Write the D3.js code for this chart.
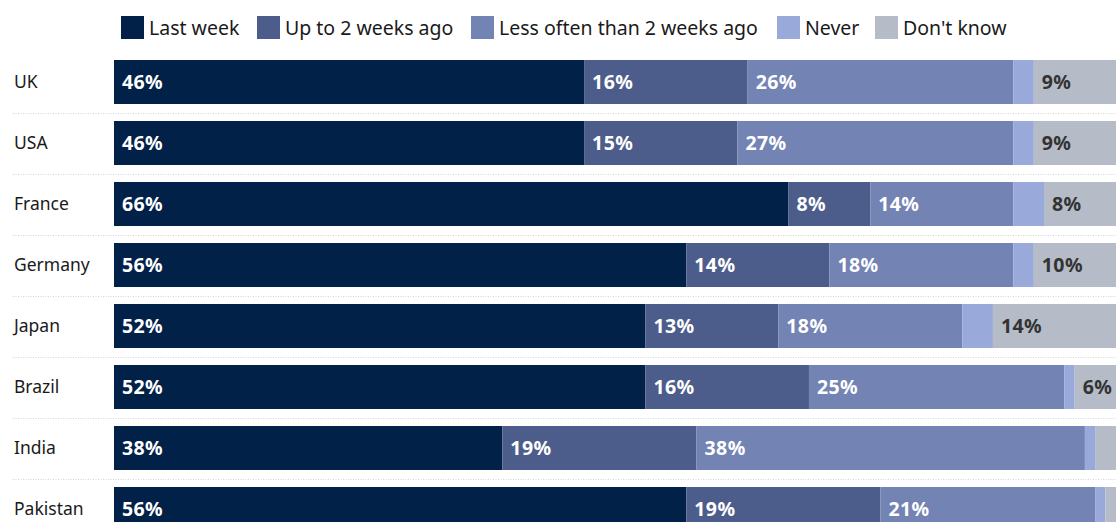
<!DOCTYPE html>
<html>
<head>
<meta charset="utf-8">
<script src="https://cdn.jsdelivr.net/npm/d3@7/dist/d3.min.js"></script>
<style>
  html, body { margin: 0; padding: 0; background: #fff; overflow: hidden; }
  svg { display: block; font-family: "Noto Sans", "Open Sans", sans-serif; }
</style>
</head>
<body>
<svg id="chart" width="1116" height="522"></svg>
<script>
// Survey: when respondents last did the activity, share by country (%)
const countries = ["UK", "USA", "France", "Germany", "Japan", "Brazil", "India", "Pakistan"];
const seriesNames = ["Last week", "Up to 2 weeks ago", "Less often than 2 weeks ago", "Never", "Don't know"];

const lastWeek     = [46, 46, 66, 56, 52, 52, 38, 56];
const upToTwoWeeks = [16, 15,  8, 14, 13, 16, 19, 19];
const lessOften    = [26, 27, 14, 18, 18, 25, 38, 21];
const never        = [ 2,  2,  3,  2,  3,  1,  1,  1];
const dontKnow     = [ 9,  9,  8, 10, 14,  6,  4,  3];

const colors = ["#022149", "#4d5d8b", "#7383b4", "#98a9da", "#b5bbc7"];
const labelColors = ["#ffffff", "#ffffff", "#ffffff", "#ffffff", "#333333"];
const minLabel = 5;

const seriesValues = [lastWeek, upToTwoWeeks, lessOften, never, dontKnow];
const rows = countries.map((c, i) => {
  const r = { country: c };
  seriesNames.forEach((s, k) => { r[s] = seriesValues[k][i]; });
  return r;
});

const stacked = d3.stack().keys(seriesNames)(rows);

const svg = d3.select("#chart");
const x = d3.scaleLinear().domain([0, 100]).range([114, 1136]);
const y = d3.scaleBand().domain(countries).range([60, 531]).paddingInner(17 / 61).paddingOuter(0);
const color = d3.scaleOrdinal().domain(seriesNames).range(colors);

// dotted separators between rows
svg.append("g")
  .selectAll("line")
  .data(countries.slice(1))
  .join("line")
  .attr("x1", 13)
  .attr("x2", 1116)
  .attr("y1", d => Math.round(y(d) - y.step() * y.paddingInner() / 2) + 0.5)
  .attr("y2", d => Math.round(y(d) - y.step() * y.paddingInner() / 2) + 0.5)
  .attr("stroke", "#d4d4d4")
  .attr("stroke-width", 1)
  .attr("stroke-dasharray", "1,1.5");

// country labels
svg.append("g")
  .selectAll("text")
  .data(countries)
  .join("text")
  .attr("x", 14)
  .attr("y", d => y(d) + y.bandwidth() / 2)
  .attr("dy", "0.35em")
  .attr("fill", "#1a1a1a")
  .style("font-size", "17.5px")
  .text(d => d);

// stacked bars
const layer = svg.append("g")
  .selectAll("g")
  .data(stacked)
  .join("g")
  .attr("fill", d => color(d.key));

layer.selectAll("rect")
  .data(d => d)
  .join("rect")
  .attr("x", d => x(d[0]))
  .attr("y", d => y(d.data.country))
  .attr("width", d => x(d[1]) - x(d[0]))
  .attr("height", y.bandwidth());

// value labels
const labelLayer = svg.append("g")
  .selectAll("g")
  .data(stacked)
  .join("g")
  .attr("fill", (d, i) => labelColors[i]);

labelLayer.selectAll("text")
  .data(d => d.filter(v => v[1] - v[0] >= minLabel))
  .join("text")
  .attr("x", d => x(d[0]) + 8)
  .attr("y", d => y(d.data.country) + y.bandwidth() / 2)
  .attr("dy", "0.36em")
  .style("font-size", "19.5px")
  .style("font-weight", "700")
  .style("letter-spacing", "0.4px")
  .text(d => `${d[1] - d[0]}%`);

// legend
const legendX = [121, 257, 471, 777, 875];
const legend = svg.append("g")
  .selectAll("g")
  .data(seriesNames)
  .join("g")
  .attr("transform", (d, i) => `translate(${legendX[i]},16)`);

legend.append("rect")
  .attr("width", 23)
  .attr("height", 23)
  .attr("fill", d => color(d));

legend.append("text")
  .attr("x", 28)
  .attr("y", 11.5)
  .attr("dy", "0.36em")
  .attr("fill", "#1a1a1a")
  .style("font-size", "19.5px")
  .text(d => d);
</script>
</body>
</html>
